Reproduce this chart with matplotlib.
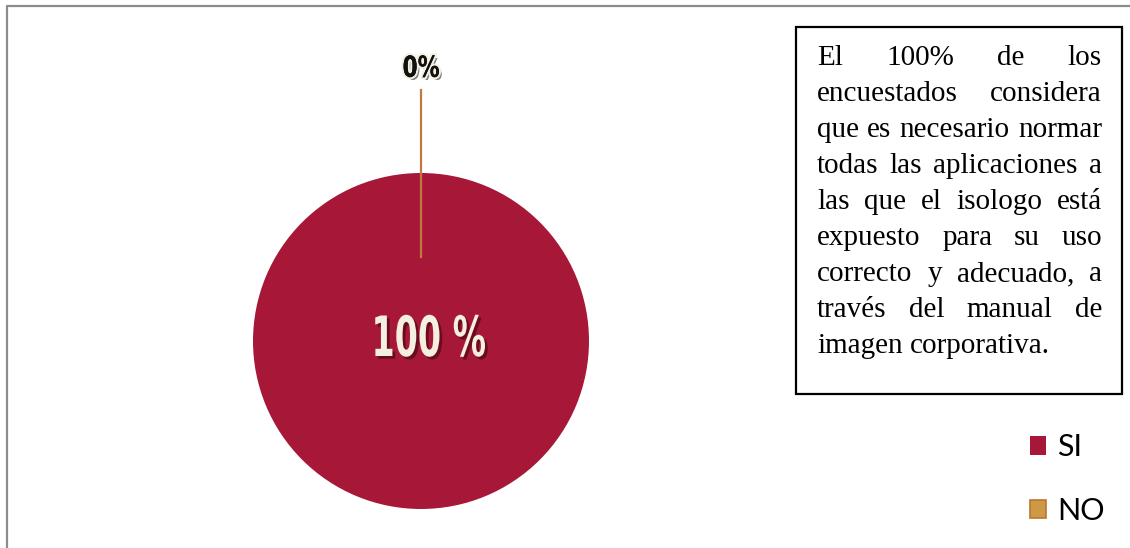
import matplotlib
matplotlib.use("Agg")
import matplotlib.pyplot as plt
import matplotlib.patheffects as pe
from matplotlib.transforms import Affine2D
import numpy as np

categories = ["SI", "NO"]
values = [100, 0]
colors = ["#A71838", "#CC9A44"]
edge_no = "#BF7431"

box_lines = [
    "El 100% de los",
    "encuestados considera",
    "que es necesario normar",
    "todas las aplicaciones a",
    "las que el isologo está",
    "expuesto para su uso",
    "correcto y adecuado, a",
    "través del manual de",
    "imagen corporativa.",
]


class Squeeze(pe.AbstractPathEffect):
    """Narrow the glyphs horizontally around their centre, then hand off."""

    def __init__(self, inner, sx=0.7):
        super().__init__()
        self.inner = inner
        self.sx = sx

    def draw_path(self, renderer, gc, tpath, affine, rgbFace=None):
        ext = tpath.get_extents()
        mid = (ext.x0 + ext.x1) / 2
        squeeze = Affine2D().translate(-mid, 0).scale(self.sx, 1).translate(mid, 0)
        self.inner.draw_path(renderer, gc, tpath, squeeze + affine, rgbFace)


W, H = 1130, 548
fig = plt.figure(figsize=(W / 100, H / 100), dpi=100)

# overlay in pixel coords for frame, text box
ov = fig.add_axes([0, 0, 1, 1])
ov.set_xlim(0, W)
ov.set_ylim(H, 0)
ov.axis("off")
ov.plot([7, 7, W], [H, 5.5, 5.5], color="#8C8C8C", lw=1.6, solid_capstyle="butt")

# pie
cx, cy, r = 421, 341, 168
ax = fig.add_axes([(cx - r) / W, (H - cy - r) / H, 2 * r / W, 2 * r / H])
wedges, _ = ax.pie(values, colors=colors, startangle=90, counterclock=False,
                   radius=1, wedgeprops=dict(linewidth=0))
ax.set_xlim(-1, 1)
ax.set_ylim(-1, 1)
ax.set_aspect("auto")
ax.axis("off")

big = dict(family="DejaVu Sans", weight="bold")

# value labels
tot = sum(values)
for w, v in zip(wedges, values):
    ang = np.deg2rad((w.theta1 + w.theta2) / 2)
    pct = round(100 * v / tot)
    if v == tot:
        sq = 0.6
        ax.text(0.04, 0.0, f"{pct} %", ha="center", va="center", fontsize=40,
                color="#F4EFDF", fontdict=big,
                path_effects=[Squeeze(pe.SimplePatchShadow(offset=(2, -2), shadow_rgbFace="#5a0a1c", alpha=0.8), sq),
                              Squeeze(pe.Normal(), sq)])
    else:
        sq = 0.75
        x0, y0 = 0.5 * np.cos(ang), 0.5 * np.sin(ang)
        x1, y1 = 1.494 * np.cos(ang), 1.494 * np.sin(ang)
        ax.plot([x0, x1], [y0, y1], color="#C07A3C", lw=1.6, clip_on=False)
        ax.text(1.62 * np.cos(ang), 1.62 * np.sin(ang), f"{pct}%", ha="center", va="center",
                fontsize=21, color="#111111", fontdict=big, clip_on=False,
                path_effects=[Squeeze(pe.SimplePatchShadow(offset=(2, -2), alpha=0.5), sq),
                              Squeeze(pe.withStroke(linewidth=3, foreground="#F4EFDF"), sq),
                              Squeeze(pe.Normal(), sq)])

# legend
wedges[1].set_edgecolor(edge_no)
wedges[1].set_linewidth(1.2)
leg = fig.legend(wedges, categories, loc="center left", bbox_to_anchor=(1002 / W, 1 - 479 / H),
                 frameon=False, prop=dict(family="Lato", size=22),
                 handlelength=0.55, handleheight=0.55, handletextpad=0.35, labelspacing=1.15)
wedges[1].set_linewidth(0)

# justified text box
ov.add_patch(plt.Rectangle((796, 27), 326, 367, fill=False, edgecolor="black", lw=1.6))
left, right = 817, 1102
base0, step = 65, 36
renderer = fig.canvas.get_renderer()
tfont = dict(family="Liberation Serif", size=21, color="black")
a1 = ov.text(0, 0, "a", **tfont)
a2 = ov.text(0, 0, "a a", **tfont)
space_w = a2.get_window_extent(renderer).width - 2 * a1.get_window_extent(renderer).width
a1.remove()
a2.remove()
for i, line in enumerate(box_lines):
    y = base0 + i * step
    words = line.split()
    texts = [ov.text(0, y, wd, ha="left", va="baseline", **tfont) for wd in words]
    widths = [t.get_window_extent(renderer).width for t in texts]
    if i == len(box_lines) - 1:
        gap = space_w
    else:
        gap = (right - left - sum(widths)) / (len(words) - 1)
    x = left
    for t, wdt in zip(texts, widths):
        t.set_x(x)
        x += wdt + gap

fig.savefig("out.png", dpi=100)
